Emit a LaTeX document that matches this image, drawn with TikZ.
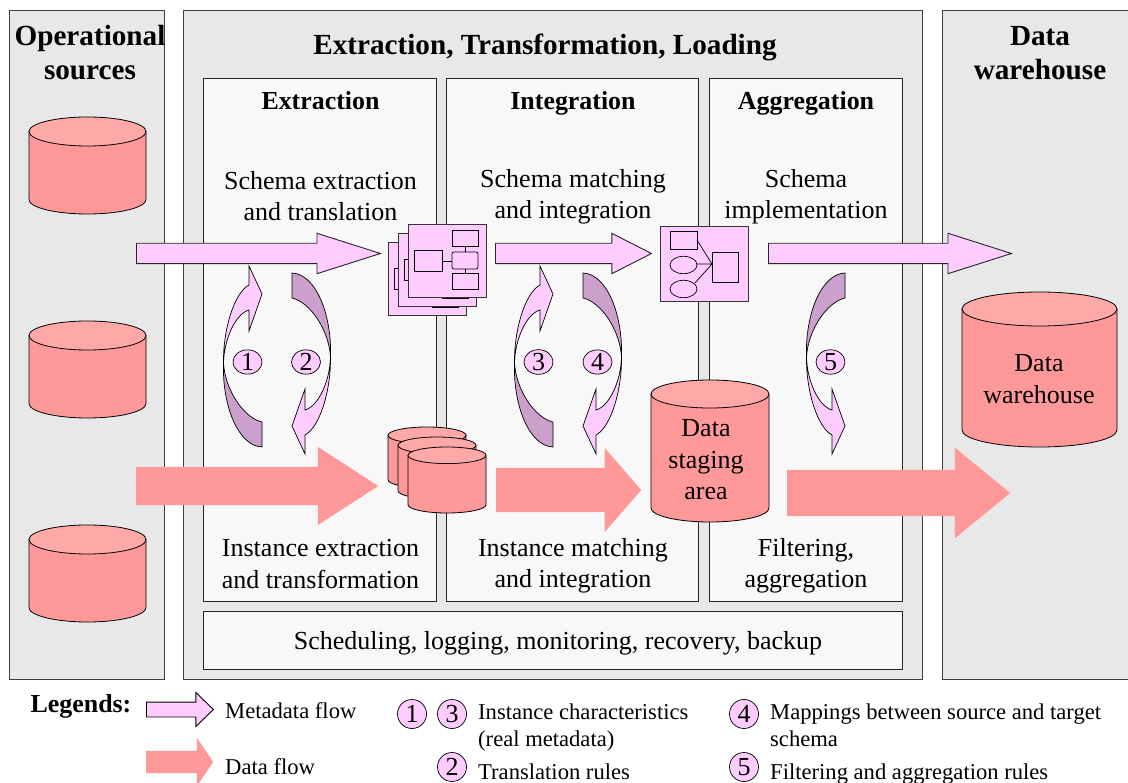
\documentclass[tikz,border=0pt]{standalone}
\usepackage{fontspec}
\setmainfont{Liberation Serif}
\usetikzlibrary{shapes.geometric, shapes.arrows}
\definecolor{panelgray}{HTML}{E8E8E8}
\definecolor{innergray}{HTML}{F8F8F8}
\definecolor{metapink}{HTML}{FFCCFF}
\definecolor{metadark}{HTML}{CCA0CC}
\definecolor{datared}{HTML}{FF9999}
\definecolor{datatop}{HTML}{FFA8A8}
\tikzstyle{outer} = [rectangle, draw=black!75, line width=0.9pt, fill=panelgray, inner sep=0pt]
\tikzstyle{inner} = [rectangle, draw=black!85, line width=0.9pt, fill=innergray, inner sep=0pt]
\tikzstyle{title} = [font=\bfseries\fontsize{29.2}{34}\selectfont, align=center, inner sep=0pt]
\tikzstyle{head} = [font=\bfseries\fontsize{25.9}{31}\selectfont, align=center, inner sep=0pt]
\tikzstyle{body} = [font=\fontsize{26}{31.5}\selectfont, align=center, inner sep=0pt]
\tikzstyle{legend} = [font=\fontsize{22.6}{27}\selectfont, align=left, inner sep=0pt, right]
\tikzstyle{meta} = [single arrow, anchor=tail, draw=black!85, line width=0.9pt, fill=metapink, inner xsep=0pt, inner ysep=9.75pt, single arrow head extend=10pt]
\tikzstyle{flow} = [single arrow, anchor=tail, fill=datared, inner xsep=0pt]
\tikzstyle{rule} = [ellipse, draw=black, line width=0.7pt, fill=metapink, inner sep=0pt,
    minimum width=29pt, minimum height=24pt, font=\fontsize{26}{26}\selectfont]
\tikzstyle{rulek} = [ellipse, draw=black, line width=0.7pt, fill=metapink, inner sep=0pt,
    minimum width=29pt, minimum height=29pt, font=\fontsize{26}{26}\selectfont]
% left, top, width, height, cap radius
\newcommand{\drumshape}[5]{
    \draw [line width=0.8pt, fill=datared] (#1,#2+#5) -- (#1,#2+#4-#5) arc (180:0:#3/2 and #5) -- (#1+#3,#2+#5) -- cycle;
    \draw [line width=0.8pt, fill=datatop] (#1+#3/2,#2+#5) ellipse (#3/2 and #5);
}
\tikzset{
    curvedflow/.pic={
        \draw [line width=0.7pt, fill=metapink] (6,-75) .. controls (-9,-67) and (-20,-30) .. (-19.5,3)
            .. controls (-19,-20) and (-8,-46) .. (6,-50) -- (6,-29) -- (19,-66) -- (6,-94) -- cycle;
        \draw [line width=0.7pt, fill=metadark] (-19.5,3) .. controls (-21,45) and (-5,86) .. (19,87)
            -- (19,62) .. controls (1,58) and (-18,30) .. (-19.5,3) -- cycle;
    },
    schemacard/.pic={
        \draw [draw=black!80, line width=0.9pt, fill=metapink] (0,0) rectangle (78,73);
        \draw [line width=0.7pt] (6,26) rectangle (34,47);
        \draw [line width=0.7pt] (44,6) rectangle (70,22);
        \draw [line width=0.7pt, rounded corners=2pt] (44,28) rectangle (70,45);
        \draw [line width=0.7pt] (44,49) rectangle (70,65);
        \draw [line width=0.7pt] (34,37) -- (44,37) (57,22) -- (57,28) (57,45) -- (57,49);
    }
}

\begin{document}
\begin{tikzpicture}[x=1pt, y=-1pt]
    \clip (0,0) rectangle (1128,783);
    % outer panels
    \node (sources) [outer, minimum width=155pt, minimum height=669pt] at (87,345) {};
    \node (etl) [outer, minimum width=739pt, minimum height=669pt] at (553,345) {};
    \node (warehouse) [outer, minimum width=240pt, minimum height=669pt] at (1062,345) {};
    \node (extraction) [inner, minimum width=233pt, minimum height=523pt] at (320,340) {};
    \node (integration) [inner, minimum width=252pt, minimum height=523pt] at (572.5,340) {};
    \node (aggregation) [inner, minimum width=193pt, minimum height=523pt] at (806,340) {};
    \node (services) [inner, minimum width=699pt, minimum height=58pt] at (553,640.5) {};
    % titles
    \node (t1) [title] at (90,53) {Operational\\sources};
    \node (t2) [title] at (545,47) {Extraction, Transformation, Loading};
    \node (t3) [title] at (1040,53) {Data\\warehouse};
    \node (h1) [head] at (320.5,101) {Extraction};
    \node (h2) [head] at (573,103) {Integration};
    \node (h3) [head] at (806,103) {Aggregation};
    \node (s1) [body] at (320.5,196) {Schema extraction\\and translation};
    \node (s2) [body] at (573,197) {Schema matching\\and integration};
    \node (s3) [body] at (806,197) {Schema\\implementation};
    \node (i1) [body] at (320.5,564) {Instance extraction\\and transformation};
    \node (i2) [body] at (573,566) {Instance matching\\and integration};
    \node (i3) [body] at (806,566) {Filtering,\\aggregation};
    \node (s4) [body] at (558,643) {Scheduling, logging, monitoring, recovery, backup};
    % metadata arrows
    \node (m1) [meta, minimum height=244pt, minimum width=39.5pt, single arrow tip angle=35.3] at (136,253.5) {};
    \node (m2) [meta, minimum height=156pt, minimum width=39.5pt, single arrow tip angle=54] at (495,253.5) {};
    \node (m3) [meta, minimum height=243pt, minimum width=39.5pt, single arrow tip angle=35.3] at (768,253.5) {};
    % data arrows
    \node (d1) [flow, inner ysep=19pt, minimum height=242pt, minimum width=78pt, single arrow head extend=20pt, single arrow tip angle=66] at (136,486) {};
    \node (d2) [flow, inner ysep=22pt, minimum height=145pt, minimum width=84pt, single arrow head extend=20pt, single arrow tip angle=98] at (496,490) {};
    \node (d3) [flow, inner ysep=23pt, minimum height=223pt, minimum width=90pt, single arrow head extend=22pt, single arrow tip angle=78.6] at (787,493) {};
    % curved arrows
    \pic at (243,360) {curvedflow};
    \pic [rotate=180] at (311,360) {curvedflow};
    \pic at (534,360) {curvedflow};
    \pic [rotate=180] at (602,360) {curvedflow};
    \pic [yscale=-1] at (826,360) {curvedflow};
    \node (r1) [rule] at (247.5,362) {1};
    \node (r2) [rule] at (306,362) {2};
    \node (r3) [rule] at (538.5,362) {3};
    \node (r4) [rule] at (597.5,362) {4};
    \node (r5) [rule] at (830.5,362) {5};
    % schema icons
    \pic at (388,242) {schemacard};
    \pic at (398,233) {schemacard};
    \pic at (408,224) {schemacard};
    \node (map) [rectangle, draw=black!80, line width=0.9pt, fill=metapink, minimum width=88pt, minimum height=75pt, inner sep=0pt] at (704.5,264) {};
    \draw [line width=0.7pt] (670,231) rectangle (697,249);
    \draw [line width=0.7pt] (712,252) rectangle (738,282);
    \draw [line width=0.7pt] (683.5,265) ellipse (13.5 and 8.7);
    \draw [line width=0.7pt] (683.5,289) ellipse (13.5 and 8.7);
    \draw [line width=0.7pt] (697,240) -- (712,264) (697,264) -- (712,264) (695,283) -- (712,264);
    % drums
    \drumshape{29}{117}{117}{97}{14.5}
    \drumshape{29}{321}{117}{97}{14.5}
    \drumshape{29}{525}{117}{97}{14.5}
    \drumshape{388}{427}{78}{61}{8.3}
    \drumshape{398}{437}{78}{62}{8.3}
    \drumshape{408}{447}{78}{66}{8.3}
    \drumshape{651}{380}{118}{142}{14}
    \drumshape{962}{292}{155}{155}{17}
    \node (l1) [body] at (706,460) {Data\\staging\\area};
    \node (l2) [body] at (1039,379) {Data\\warehouse};
    % legends
    \node (lg) [head] at (81,706) {Legends:};
    \node (a1) [meta, inner ysep=7pt, draw=black, minimum height=67pt, minimum width=33pt, single arrow head extend=9.5pt, single arrow tip angle=88] at (146,709.5) {};
    \node (a2) [flow, inner ysep=11pt, minimum height=67pt, minimum width=48pt, single arrow head extend=13pt, single arrow tip angle=112] at (146,762) {};
    \node (g1) [legend] at (225,711) {Metadata flow};
    \node (g2) [legend] at (225,767) {Data flow};
    \node (n1) [rulek] at (412,714) {1};
    \node (n3) [rulek] at (452,714) {3};
    \node (n2) [rulek] at (452,767) {2};
    \node (n4) [rulek] at (744,714) {4};
    \node (n5) [rulek] at (744,767) {5};
    \node (g3) [legend] at (478,728) {Instance characteristics\\(real metadata)};
    \node (g4) [legend] at (478,772) {Translation rules};
    \node (g5) [legend] at (770,725) {Mappings between source and target\\schema};
    \node (g6) [legend] at (770,774) {Filtering and aggregation rules};
\end{tikzpicture}
\end{document}
